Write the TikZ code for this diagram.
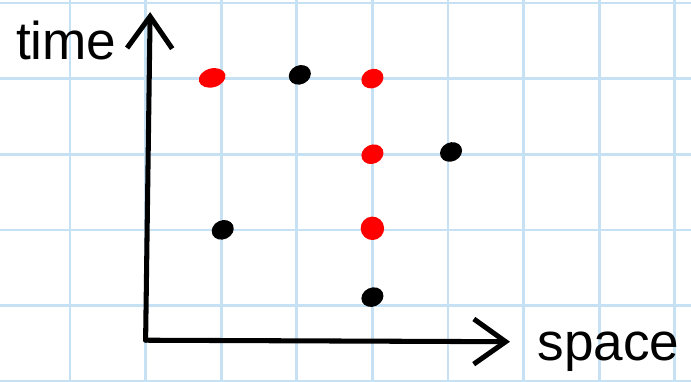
\documentclass[tikz,border=0pt]{standalone}
\usepackage{fontspec}
\setmainfont{Liberation Sans}
\usepackage{tikz}
\usepackage{xcolor}
\usetikzlibrary{arrows.meta,positioning,shapes.geometric}
\definecolor{Grid_Blue}{HTML}{C6E1F3}
\definecolor{Dot_Red}{HTML}{FF0000}
\definecolor{Ink_Black}{HTML}{000000}

\begin{document}
\begin{tikzpicture}[>=Stealth,
    gridline/.style={Grid_Blue, line width=1pt},
    axis/.style={line width=1.9pt, Ink_Black, line cap=round},
    evdot/.style={ellipse, inner sep=0pt, minimum width=0.3cm, minimum height=0.25cm, rotate=25},
    reddot/.style={evdot, fill=Dot_Red},
    blackdot/.style={evdot, fill=Ink_Black},
    axislabel/.style={font=\fontsize{20}{24}\selectfont, Ink_Black}]
    \useasboundingbox (-0.926,0) rectangle (8.214,5.04);

    % Paper grid
    \draw[gridline] (-0.93,-0.1) grid (8.22,5.1);

    % Axes
    \coordinate (origin) at (1.0,0.54);
    \coordinate (ytip) at (1.06,4.88);
    \coordinate (xtip) at (5.82,0.52);
    \draw[axis, -{Straight Barb[length=12pt, width=17pt, line width=1.9pt]}] (origin) -- (ytip);
    \draw[axis, -{Straight Barb[length=12pt, width=17pt, line width=1.9pt]}] (origin) -- (xtip);
    \node[axislabel] (timelabel) at (-0.05,4.5) {time};
    \node[axislabel, anchor=base west] (spacelabel) at (6.06,0.27) {space};

    % Events
    \node[reddot, minimum width=0.36cm, rotate=-10] (r1) at (1.88,4.01) {};
    \node[blackdot] (b1) at (3.04,4.05) {};
    \node[reddot] (r2) at (4.0,4.0) {};
    \node[reddot] (r3) at (4.0,3.0) {};
    \node[blackdot] (b2) at (5.04,3.03) {};
    \node[blackdot] (b3) at (2.02,2.0) {};
    \node[reddot, circle, minimum size=0.31cm] (r4) at (4.0,2.02) {};
    \node[blackdot] (b4) at (4.0,1.11) {};

\end{tikzpicture}
\end{document}
